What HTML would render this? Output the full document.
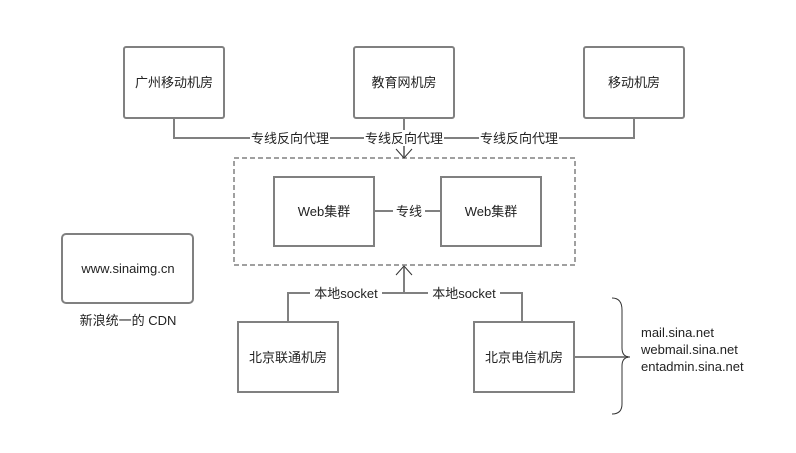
<!DOCTYPE html>
<html><head><meta charset="utf-8"><style>
body{margin:0;background:#fff}
svg text{font-family:"Liberation Sans","Noto Sans CJK SC",sans-serif;font-size:13px;fill:#222}
</style></head><body>
<svg width="796" height="448" viewBox="0 0 796 448" xmlns="http://www.w3.org/2000/svg">
<g fill="#fff" stroke="#808080" stroke-width="2">
<rect x="124" y="47" width="100" height="71" rx="2"/>
<rect x="354" y="47" width="100" height="71" rx="2"/>
<rect x="584" y="47" width="100" height="71" rx="2"/>
<rect x="274" y="177" width="100" height="69"/>
<rect x="441" y="177" width="100" height="69"/>
<rect x="62" y="234" width="131" height="69" rx="4"/>
<rect x="238" y="322" width="100" height="70"/>
<rect x="474" y="322" width="100" height="70"/>
</g>
<rect x="234" y="158" width="341" height="107" fill="none" stroke="#808080" stroke-width="1.5" stroke-dasharray="5,3"/>
<g fill="none" stroke="#808080" stroke-width="2">
<polyline points="174,118 174,138 634,138 634,118"/>
<line x1="404" y1="118" x2="404" y2="157"/>
<line x1="374" y1="211" x2="441" y2="211"/>
<polyline points="288,322 288,293 522,293 522,322"/>
<line x1="404" y1="293" x2="404" y2="267"/>
<line x1="574" y1="357" x2="628" y2="357"/>
</g>
<g fill="none" stroke="#333" stroke-width="1">
<polyline points="396,149 404,158 412,149"/>
<polyline points="396,275 404,266 412,275"/>
<path d="M612,298 Q622,298 622,310 L622,348 Q622,357 630,357 Q622,357 622,366 L622,404 Q622,414 612,414"/>
</g>
<g fill="#fff">
<rect x="250" y="130" width="80" height="16"/>
<rect x="364" y="130" width="80" height="16"/>
<rect x="479" y="130" width="80" height="16"/>
<rect x="393" y="203" width="32" height="16"/>
<rect x="310" y="285" width="72" height="16"/>
<rect x="428" y="285" width="72" height="16"/>
</g>
<g text-anchor="middle">
<text x="174" y="87">广州移动机房</text>
<text x="404" y="87">教育网机房</text>
<text x="634" y="87">移动机房</text>
<text x="290" y="143">专线反向代理</text>
<text x="404" y="143">专线反向代理</text>
<text x="519" y="143">专线反向代理</text>
<text x="324" y="216">Web集群</text>
<text x="491" y="216">Web集群</text>
<text x="409" y="216">专线</text>
<text x="128" y="273">www.sinaimg.cn</text>
<text x="128" y="325">新浪统一的 CDN</text>
<text x="346" y="298">本地socket</text>
<text x="464" y="298">本地socket</text>
<text x="288" y="362">北京联通机房</text>
<text x="524" y="362">北京电信机房</text>
</g>
<text x="641" y="337">mail.sina.net</text>
<text x="641" y="354">webmail.sina.net</text>
<text x="641" y="371">entadmin.sina.net</text>
</svg>
</body></html>
